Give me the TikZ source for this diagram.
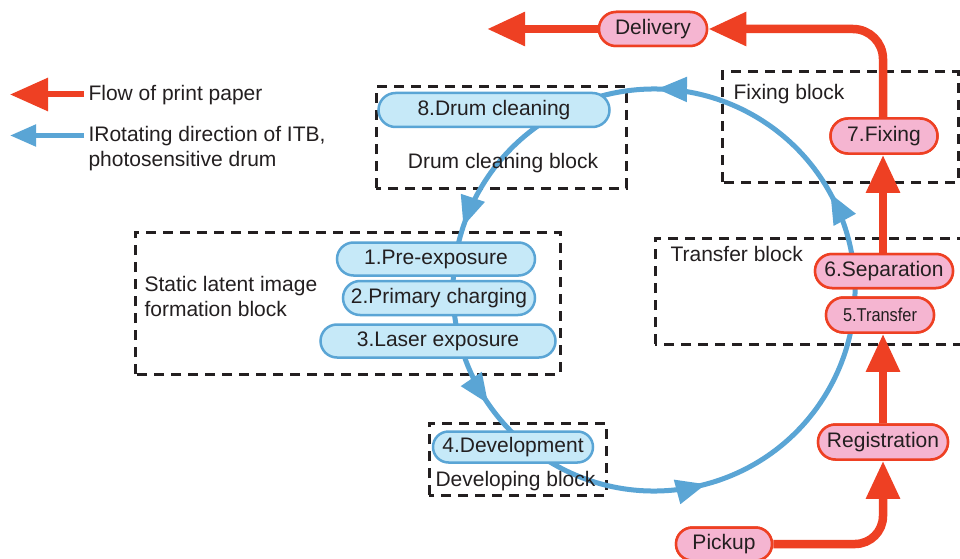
\documentclass[tikz,border=0pt]{standalone}
\usepackage{fontspec}
\setmainfont{Liberation Sans}
\usetikzlibrary{arrows.meta,shapes.misc,decorations.markings}
\definecolor{pRed}{HTML}{EE4023}
\definecolor{pPink}{HTML}{F5B5D1}
\definecolor{pBlue}{HTML}{5AA5D5}
\definecolor{pLight}{HTML}{C6E9F8}
\definecolor{pText}{HTML}{231F20}
\begin{document}
\begin{tikzpicture}[x=1pt,y=1pt,
  txt/.style={font=\fontsize{21}{25}\selectfont, text=pText},
  rednode/.style={txt, rounded rectangle, draw=pRed, fill=pPink, line width=2.5pt, inner sep=0pt, minimum height=34pt},
  bluenode/.style={txt, rounded rectangle, draw=pBlue, fill=pLight, line width=2.5pt, inner sep=0pt, minimum height=34pt},
  block/.style={draw=pText, line width=3pt, dash pattern=on 10pt off 7pt},
  flow/.style={draw=pRed, line width=8.5pt, -{Triangle[length=38pt,width=32pt]}},
  ring/.style={draw=pBlue, line width=5pt}
]
\clip (0,0) rectangle (960,558);
\fill[white] (0,0) rectangle (960,558);

% dashed blocks
\draw[block] (376,370) rectangle (626,471);
\draw[block] (722,376) rectangle (958,486);
\draw[block] (655,214) rectangle (975,320);
\draw[block] (135,184) rectangle (560,326);
\draw[block] (429,63) rectangle (606,135);

% rotating ring
\coordinate (ringc) at (654,268);
\draw[ring, postaction={decorate}, decoration={markings,
  mark=at position 0.081 with {\arrow[pBlue]{Triangle[length=30pt,width=24pt]}},
  mark=at position 0.282 with {\arrow[pBlue]{Triangle[length=30pt,width=24pt]}},
  mark=at position 0.429 with {\arrow[pBlue]{Triangle[length=30pt,width=24pt]}},
  mark=at position 0.625 with {\arrow[pBlue]{Triangle[length=30pt,width=24pt]}},
  mark=at position 0.913 with {\arrow[pBlue]{Triangle[length=30pt,width=24pt]}}}]
  (ringc) ++(60:201) arc[start angle=60, end angle=420, radius=201];

% block labels
\node[txt, anchor=center] (lDrum) at (503,395) {Drum cleaning block};
\node[txt, anchor=west] (lFix) at (730,464) {Fixing block};
\node[txt, anchor=west] (lTrans) at (667,304) {Transfer block};
\node[txt, anchor=west, align=left] (lStatic) at (141,261.5) {Static latent image\\formation block};
\node[txt, anchor=west] (lDev) at (432,77) {Developing block};

% red nodes (positions)
\node[rednode, minimum width=108pt] (deliv) at (653,529) {Delivery};
\node[rednode, minimum width=96pt, minimum height=33pt] (pick) at (724,14) {Pickup};
\node[rednode, minimum width=130pt, minimum height=35pt] (reg) at (883,116) {Registration};
\node[rednode, minimum width=108pt, minimum height=35pt] (trans) at (880,243) {\scalebox{0.88}[1]{\fontsize{18.6}{22}\selectfont 5.Transfer}};
\node[rednode, minimum width=138pt] (sep) at (884,287) {6.Separation};
\node[rednode, minimum width=107pt, minimum height=35pt] (fix) at (884,422) {7.Fixing};

% red flow
\coordinate (outp) at (487,529);
\draw[flow, rounded corners=28pt] (pick.east) -| (reg.south);
\draw[flow] (reg.north) -- (reg.north |- trans.south);
\draw[flow] (sep.north -| reg.north) -- (fix.south -| reg.north);
\draw[flow, rounded corners=30pt] (fix.north -| reg.north) |- (deliv.east);
\draw[flow] (deliv.west) -- (outp);
\node[rednode, minimum width=108pt] at (deliv) {Delivery};
\node[rednode, minimum width=138pt] at (sep) {6.Separation};
\node[rednode, minimum width=107pt, minimum height=35pt] at (fix) {7.Fixing};
\node[rednode, minimum width=130pt, minimum height=35pt] at (reg) {Registration};
\node[rednode, minimum width=108pt, minimum height=35pt] at (trans) {\scalebox{0.88}[1]{\fontsize{18.6}{22}\selectfont 5.Transfer}};
\node[rednode, minimum width=96pt, minimum height=33pt] at (pick) {Pickup};

% blue nodes
\node[bluenode, minimum width=231pt] (drum) at (494,448) {8.Drum cleaning};
\node[bluenode, minimum width=198pt, minimum height=33pt] (pre) at (436,299) {1.Pre-exposure};
\node[bluenode, minimum width=192pt] (prim) at (439,260) {2.Primary charging};
\node[bluenode, minimum width=235pt, minimum height=33pt] (laser) at (438,217) {3.Laser exposure};
\node[bluenode, minimum width=160pt, minimum height=31pt] (dev) at (513,111) {4.Development};

% legend
\coordinate (lgRs) at (84,463.5);
\coordinate (lgRe) at (10,463.5);
\coordinate (lgBs) at (84,422.5);
\coordinate (lgBe) at (10,422.5);
\draw[draw=pRed, line width=6pt, -{Triangle[length=38pt,width=32pt]}] (lgRs) -- (lgRe);
\draw[draw=pBlue, line width=5pt, -{Triangle[length=26pt,width=21pt]}] (lgBs) -- (lgBe);
\node[txt, anchor=west] (legR) at (85,463) {Flow of print paper};
\node[txt, anchor=west, align=left] (legB) at (85,409) {IRotating direction of ITB,\\photosensitive drum};
\end{tikzpicture}
\end{document}
